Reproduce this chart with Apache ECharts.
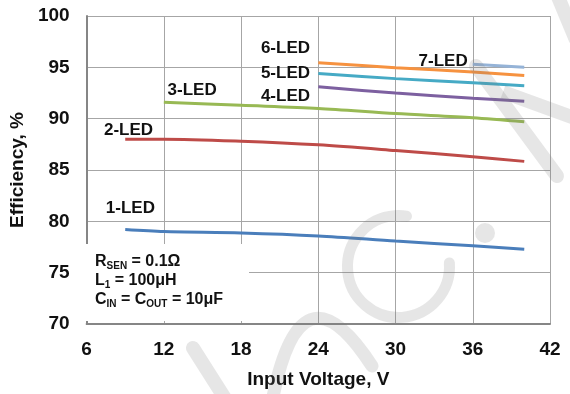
<!DOCTYPE html>
<html><head><meta charset="utf-8">
<script src="https://cdn.jsdelivr.net/npm/echarts@6/dist/echarts.min.js"></script>
<style>html,body{margin:0;padding:0;background:#fff}#c{width:570px;height:394px}</style>
</head><body><div id="c"></div>
<script>
// ---- data ----
const seriesNames = ['1-LED','2-LED','3-LED','4-LED','5-LED','6-LED','7-LED'];
const led1X = [9, 12, 18, 24, 30, 36, 40];
const led1Y = [79.2, 79.0, 78.87, 78.58, 78.08, 77.62, 77.28];
const led2X = [9, 12, 18, 24, 30, 36, 40];
const led2Y = [88.0, 88.0, 87.8, 87.45, 86.9, 86.3, 85.84];
const led3X = [12, 18, 24, 30, 36, 40];
const led3Y = [91.6, 91.3, 91.0, 90.5, 90.1, 89.7];
const led4X = [24, 30, 36, 40];
const led4Y = [93.1, 92.5, 92.0, 91.7];
const led5X = [24, 30, 36, 40];
const led5Y = [94.4, 93.9, 93.5, 93.2];
const led6X = [24, 30, 36, 40];
const led6Y = [95.45, 94.97, 94.55, 94.2];
const led7X = [36, 40];
const led7Y = [95.3, 95.0];
const xTicks = [6, 12, 18, 24, 30, 36, 42];
const yTicks = [70, 75, 80, 85, 90, 95, 100];
// label anchor points in data coordinates [x, y]
const labelPos = [[9.4, 81.3],[9.26, 88.87],[14.2, 92.8],[21.45, 92.2],[21.45, 94.4],[21.45, 96.9],[33.7, 95.6]];

const colors = ['#4A7EBB','#BE4B48','#98B954','#7D60A0','#46AAC5','#F69240','#95B3D7'];
const xs = [led1X,led2X,led3X,led4X,led5X,led6X,led7X];
const ys = [led1Y,led2Y,led3Y,led4Y,led5Y,led6Y,led7Y];
const FONT = '"Liberation Sans", Arial, sans-serif';

const chart = echarts.init(document.getElementById('c'), null, {renderer:'canvas'});
const series = seriesNames.map((n,i)=>({
  name:n, type:'line', smooth:0.3, showSymbol:false, symbol:'none',
  lineStyle:{color:colors[i], width:3}, itemStyle:{color:colors[i]},
  data: xs[i].map((x,j)=>[x, ys[i][j]]), z:3
}));
chart.setOption({
  animation:false,
  grid:{left:86, right:20, top:16, bottom:68, containLabel:false},
  xAxis:{type:'value', min:xTicks[0], max:xTicks[xTicks.length-1], interval:6,
    name:'Input Voltage, V', nameLocation:'middle', nameGap:46,
    nameTextStyle:{fontFamily:FONT, fontWeight:'bold', fontSize:19, color:'#111'},
    axisLine:{lineStyle:{color:'#868686', width:2}},
    axisTick:{show:false},
    axisLabel:{fontFamily:FONT, fontWeight:'bold', fontSize:19, color:'#111', margin:16},
    splitLine:{show:true, lineStyle:{color:'#a6a6a6', width:1}}},
  yAxis:{type:'value', min:yTicks[0], max:yTicks[yTicks.length-1], interval:5,
    name:'Efficiency, %', nameLocation:'middle', nameGap:52, nameRotate:90,
    nameTextStyle:{fontFamily:FONT, fontWeight:'bold', fontSize:19, color:'#111'},
    axisLine:{show:true, lineStyle:{color:'#868686', width:2}},
    axisTick:{show:false},
    axisLabel:{fontFamily:FONT, fontWeight:'bold', fontSize:19, color:'#111', margin:17},
    splitLine:{show:true, lineStyle:{color:'#a6a6a6', width:1}}},
  series: series
});

const g = [];
// annotation box
g.push({type:'rect', shape:{x:81, y:244, width:168, height:77}, style:{fill:'#fff'}, z:50});
g.push({type:'text', x:95, y:252, z:51, style:{
  text:'R{s|SEN} = 0.1Ω\nL{s|1} = 100μH\nC{s|IN} = C{s|OUT} = 10μF',
  font:'bold 16px '+FONT, fill:'#111', lineHeight:19,
  rich:{s:{fontSize:10, fontWeight:'bold', fontFamily:FONT, fill:'#111', verticalAlign:'bottom', lineHeight:19, padding:[0,0,0,0]}}
}});
seriesNames.forEach((n,i)=>{
  const p = chart.convertToPixel({gridIndex:0}, labelPos[i]);
  g.push({type:'text', x:p[0], y:p[1], z:52, style:{text:n, font:'bold 17px '+FONT, fill:'#111', align:'center', verticalAlign:'middle'}});
});
// watermark (semi-transparent overlay)
const wm = 'rgba(120,120,120,0.19)';
g.push({type:'line', z:60, shape:{x1:476,y1:66,x2:557,y2:176}, style:{stroke:wm, lineWidth:14, lineCap:'round'}});
g.push({type:'line', z:60, shape:{x1:503,y1:92,x2:580,y2:120}, style:{stroke:wm, lineWidth:14}});
g.push({type:'line', z:60, shape:{x1:556,y1:-8,x2:576,y2:40}, style:{stroke:wm, lineWidth:14}});
g.push({type:'line', z:60, shape:{x1:193,y1:348,x2:226,y2:400}, style:{stroke:wm, lineWidth:14, lineCap:'round'}});
g.push({type:'bezierCurve', z:60, shape:{x1:272,y1:402,x2:372,y2:366,cpx1:300,cpy1:255}, style:{stroke:wm, lineWidth:13, fill:'none', lineCap:'round'}});
g.push({type:'arc', z:60, shape:{cx:398.5, cy:266.5, r:51, startAngle:-0.07, endAngle:4.87, clockwise:true}, style:{stroke:wm, lineWidth:11, fill:'none', lineCap:'round'}});
g.push({type:'circle', z:60, shape:{cx:485, cy:233, r:10}, style:{fill:wm}});
chart.setOption({graphic:{elements:g}});
</script></body></html>
